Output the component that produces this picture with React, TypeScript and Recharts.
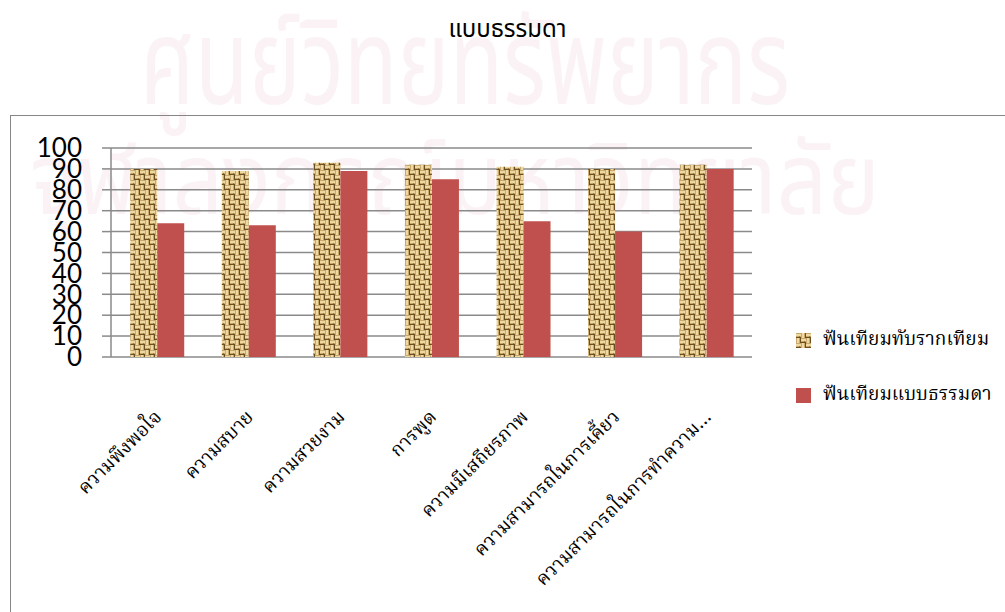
import React from 'react';
import { BarChart, Bar, XAxis, YAxis, CartesianGrid } from 'recharts';

const categories = [
  'ความพึงพอใจ',
  'ความสบาย',
  'ความสวยงาม',
  'การพูด',
  'ความมีเสถียรภาพ',
  'ความสามารถในการเคี้ยว',
  'ความสามารถในการทำความ…',
];
const implantValues = [90, 89, 93, 92, 91, 90, 92];
const conventionalValues = [64, 63, 89, 85, 65, 60, 90];
const seriesNames = ['ฟันเทียมทับรากเทียม', 'ฟันเทียมแบบธรรมดา'];
const yTicks = [0, 10, 20, 30, 40, 50, 60, 70, 80, 90, 100];
const edgeTicks = [0, 1, 2, 3, 4, 5, 6, 7];
const title = 'แบบธรรมดา';
const watermark1 = 'ศูนย์วิทยทรัพยากร';
const watermark2 = 'จุฬาลงกรณ์มหาวิทยาลัย';

const data = categories.map((name, i) => ({
  name,
  implant: implantValues[i],
  conventional: conventionalValues[i],
}));

const THAI_SANS = "Tahoma, 'Noto Sans Thai', sans-serif";
const THAI_LOOP = "'Noto Serif Thai', 'Noto Sans Thai Looped', serif";
const RED = '#C0504D';
const GRID = '#8a8a8a';

const CatTick = (props: any) => {
  const { x, payload } = props;
  return (
    <g transform={`translate(${x + 6},${418})`}>
      <text
        x={0}
        y={0}
        textAnchor="end"
        transform="rotate(-45)"
        fontSize={19}
        fontFamily={THAI_LOOP}
        fill="#000"
      >
        {payload.value}
      </text>
    </g>
  );
};

const Weave = () => (
  <svg width={0} height={0} style={{ position: 'absolute' }}>
    <defs>
      <pattern id="weave" width={10} height={10} patternUnits="userSpaceOnUse">
        <rect x={0} y={0} width={10} height={10} fill="#C9A86B" />
        <rect x={0} y={1} width={5} height={2} fill="#EFD9A2" />
        <rect x={6} y={0} width={2} height={5} fill="#EFD9A2" />
        <rect x={5} y={6} width={5} height={2} fill="#EFD9A2" />
        <rect x={1} y={5} width={2} height={5} fill="#EFD9A2" />
        <rect x={0} y={4} width={5} height={1} fill="#6B4F22" />
        <rect x={9} y={0} width={1} height={5} fill="#6B4F22" />
        <rect x={5} y={9} width={5} height={1} fill="#6B4F22" />
        <rect x={4} y={5} width={1} height={5} fill="#6B4F22" />
        <rect x={3} y={3} width={1} height={1} fill="#9A7A42" />
        <rect x={8} y={8} width={1} height={1} fill="#9A7A42" />
      </pattern>
    </defs>
  </svg>
);

export default function App() {
  return (
    <div style={{ position: 'absolute', left: 0, top: 0, width: 1005, height: 612, overflow: 'hidden', background: '#fff' }}>
      <Weave />
      <svg width={1005} height={612} style={{ position: 'absolute', left: 0, top: 0, pointerEvents: 'none' }}>
        <g fill="#c0307a" opacity={0.06} fontFamily={THAI_SANS}>
          <text x={140} y={104} fontSize={120} textLength={650} lengthAdjust="spacingAndGlyphs">
            {watermark1}
          </text>
          <text x={30} y={214} fontSize={100} textLength={850} lengthAdjust="spacingAndGlyphs">
            {watermark2}
          </text>
        </g>
      </svg>
      <div
        style={{
          position: 'absolute',
          left: 10,
          top: 115,
          width: 1010,
          height: 520,
          border: '1.5px solid #868686',
          boxSizing: 'border-box',
        }}
      />
      <div
        style={{
          position: 'absolute',
          left: 0,
          width: 1005,
          top: 12,
          textAlign: 'center',
          fontFamily: THAI_SANS,
          fontSize: 24,
          color: '#000',
          paddingLeft: 5,
        }}
      >
        {title}
      </div>
      <div style={{ position: 'absolute', left: 0, top: 0 }}>
        <BarChart
          width={1005}
          height={612}
          data={data}
          margin={{ top: 148, right: 253, left: 0, bottom: 0 }}
          barCategoryGap="21%"
          barGap={0}
        >
          <CartesianGrid xAxisId="cat" vertical={false} stroke={GRID} strokeWidth={1.5} />
          <XAxis
            xAxisId="edges"
            type="number"
            domain={[0, 7]}
            ticks={edgeTicks}
            height={0}
            tick={false}
            tickSize={9}
            stroke={GRID}
            strokeWidth={1.5}
            allowDataOverflow
          />
          <XAxis
            xAxisId="cat"
            dataKey="name"
            height={255}
            axisLine={false}
            tickLine={false}
            interval={0}
            tick={<CatTick />}
          />
          <YAxis
            domain={[0, 100]}
            ticks={yTicks}
            width={111}
            tickSize={9}
            tickMargin={20}
            stroke={GRID}
            strokeWidth={1.5}
            interval={0}
            tick={{ fill: '#000', fontSize: 26, fontFamily: 'Lato, sans-serif' }}
          />
          <Bar xAxisId="cat" dataKey="implant" name={seriesNames[0]} fill="url(#weave)" isAnimationActive={false} />
          <Bar xAxisId="cat" dataKey="conventional" name={seriesNames[1]} fill={RED} isAnimationActive={false} />
        </BarChart>
      </div>
      <div style={{ position: 'absolute', left: 796, top: 325, fontFamily: THAI_LOOP, fontSize: 19 }}>
        {seriesNames.map((n, i) => (
          <div key={n} style={{ display: 'flex', alignItems: 'center', height: 30, marginBottom: i === 0 ? 25 : 0 }}>
            <svg width={15} height={15} style={{ marginRight: 12 }}>
              <rect width={15} height={15} fill={i === 0 ? 'url(#weave)' : RED} />
            </svg>
            <span>{n}</span>
          </div>
        ))}
      </div>
    </div>
  );
}
